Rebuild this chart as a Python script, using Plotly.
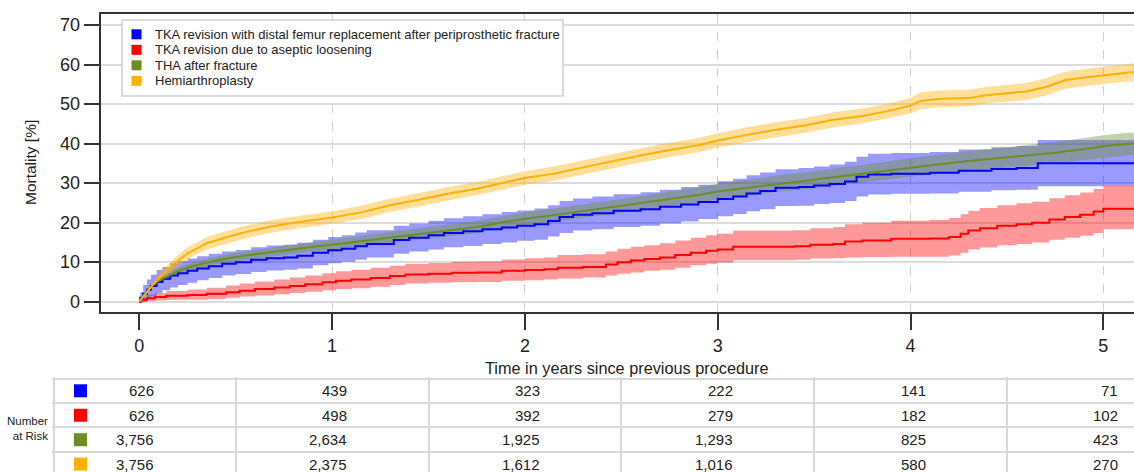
import plotly.graph_objects as go

W, H = 1134, 472
FONT = "Liberation Sans, Arial, sans-serif"

# ---------------- data ----------------
series_names = [
    "TKA revision with distal femur replacement after periprosthetic fracture",
    "TKA revision due to aseptic loosening",
    "THA after fracture",
    "Hemiarthroplasty",
]
line_colors = ["#0000FF", "#FF0000", "#6B8E23", "#FFB000"]
band_colors = ["rgba(0,0,255,0.40)", "rgba(255,0,0,0.40)", "rgba(107,142,35,0.40)", "rgba(255,176,0,0.40)"]

blue_t = [0, 0.005, 0.02, 0.04, 0.06, 0.09, 0.12, 0.16, 0.2, 0.25, 0.3, 0.36, 0.43, 0.5, 0.58, 0.66, 0.75, 0.82, 0.9, 0.98,
          1.05, 1.12, 1.18, 1.32, 1.4, 1.5, 1.58, 1.68, 1.78, 1.88, 1.96, 2.05, 2.12, 2.18, 2.25, 2.35, 2.46, 2.6, 2.7, 2.81,
          2.9, 3.0, 3.08, 3.15, 3.22, 3.3, 3.42, 3.5, 3.58, 3.66, 3.72, 3.78, 3.9, 4.1, 4.25, 4.42, 4.55, 4.66, 5.16]
blue_v = [0, 1.0, 2.0, 3.0, 4.0, 5.0, 5.8, 6.6, 7.2, 7.8, 8.4, 9.0, 9.6, 10.0, 10.6, 11.0, 11.2, 11.6, 12.4, 13.0,
          13.4, 14.0, 14.6, 15.6, 16.2, 16.8, 17.4, 17.8, 18.3, 18.8, 19.2, 19.6, 20.4, 21.4, 22.0, 22.4, 23.0, 23.4, 24.0, 24.6,
          25.2, 26.0, 26.6, 27.4, 28.0, 28.8, 29.0, 29.4, 29.8, 30.4, 31.6, 32.2, 32.4, 32.6, 33.1, 33.6, 33.8, 35.0, 35.0]
blue_lo = [0, 0, 0, 0.6, 1.4, 2.2, 2.9, 3.6, 4.2, 4.8, 5.4, 6.0, 6.6, 7.0, 7.5, 7.9, 8.1, 8.4, 9.2, 9.7,
           10.1, 10.6, 11.2, 12.1, 12.7, 13.2, 13.8, 14.1, 14.6, 15.0, 15.4, 15.7, 16.5, 17.4, 18.0, 18.3, 18.9, 19.2, 19.8, 20.3,
           20.9, 21.6, 22.2, 22.9, 23.4, 24.2, 24.3, 24.7, 25.0, 25.5, 26.6, 27.1, 27.3, 27.4, 27.8, 28.2, 28.3, 29.2, 29.2]
blue_hi = [0, 2.4, 4.2, 5.6, 6.8, 8.0, 8.8, 9.7, 10.3, 10.9, 11.5, 12.1, 12.7, 13.1, 13.8, 14.2, 14.4, 14.9, 15.7, 16.4,
           16.8, 17.5, 18.1, 19.2, 19.8, 20.5, 21.1, 21.6, 22.1, 22.7, 23.1, 23.6, 24.4, 25.5, 26.1, 26.6, 27.2, 27.7, 28.3, 29.0,
           29.6, 30.5, 31.1, 32.0, 32.7, 33.5, 33.8, 34.2, 34.7, 35.4, 36.7, 37.4, 37.6, 37.9, 38.5, 39.1, 39.4, 40.9, 40.9]

red_t = [0, 0.01, 0.04, 0.08, 0.14, 0.25, 0.35, 0.45, 0.52, 0.6, 0.7, 0.78, 0.86, 0.95, 1.02, 1.1, 1.2, 1.3, 1.38, 1.5,
         1.62, 1.75, 1.88, 2.0, 2.1, 2.17, 2.3, 2.42, 2.48, 2.55, 2.62, 2.7, 2.78, 2.86, 2.94, 3.0, 3.08, 3.4, 3.48, 3.6,
         3.66, 3.75, 3.9, 4.1, 4.2, 4.26, 4.3, 4.36, 4.45, 4.55, 4.63, 4.72, 4.8, 4.88, 4.95, 5.0, 5.16]
red_v = [0, 0.5, 0.9, 1.2, 1.5, 1.7, 2.0, 2.4, 2.8, 3.2, 3.6, 4.0, 4.4, 4.9, 5.3, 5.6, 6.0, 6.5, 6.9, 7.1,
         7.3, 7.4, 7.8, 8.0, 8.2, 8.6, 8.8, 9.4, 10.0, 10.4, 10.8, 11.2, 11.8, 12.4, 12.9, 13.2, 13.9, 14.0, 14.4, 14.6,
         15.2, 15.5, 15.9, 16.0, 16.4, 17.2, 18.0, 18.6, 19.2, 19.6, 20.0, 20.8, 21.4, 22.0, 22.8, 23.5, 23.5]
red_lo = [0, 0.0, 0.2, 0.3, 0.5, 0.5, 0.7, 1.0, 1.3, 1.6, 1.9, 2.2, 2.5, 2.9, 3.2, 3.4, 3.8, 4.2, 4.6, 4.8,
          4.9, 5.0, 5.3, 5.4, 5.6, 5.9, 6.1, 6.6, 7.1, 7.4, 7.8, 8.1, 8.6, 9.2, 9.6, 9.9, 10.5, 10.6, 10.9, 11.0,
          11.2, 11.3, 11.4, 11.4, 11.7, 12.4, 13.2, 13.7, 14.3, 14.6, 15.0, 15.7, 16.2, 16.7, 17.4, 18.3, 18.3]
red_hi = [0, 1.0, 1.7, 2.2, 2.7, 3.1, 3.5, 4.1, 4.6, 5.1, 5.6, 6.1, 6.6, 7.2, 7.7, 8.1, 8.6, 9.1, 9.6, 9.8,
          10.1, 10.2, 10.7, 11.0, 11.2, 11.8, 12.0, 12.7, 13.4, 13.9, 14.3, 14.8, 15.5, 16.2, 16.8, 17.2, 18.0, 18.1, 18.6, 18.9,
          19.6, 20.0, 20.5, 20.7, 21.2, 22.1, 23.0, 23.7, 24.4, 24.9, 25.3, 26.2, 26.9, 27.6, 28.5, 29.3, 29.3]

green_t = [0, 0.02, 0.05, 0.08, 0.12, 0.16, 0.2, 0.25, 0.3, 0.4, 0.5, 0.6, 0.75, 0.9, 1.0, 1.15, 1.3, 1.45, 1.6, 1.75,
           1.9, 2.0, 2.15, 2.3, 2.45, 2.6, 2.75, 2.9, 3.0, 3.15, 3.3, 3.45, 3.6, 3.75, 3.9, 4.0, 4.15, 4.3, 4.45, 4.6,
           4.75, 4.9, 5.0, 5.1, 5.16]
green_v = [0, 1.5, 3.2, 4.6, 5.8, 6.8, 7.7, 8.6, 9.3, 10.4, 11.3, 12.0, 13.0, 13.9, 14.4, 15.3, 16.3, 17.2, 18.0, 18.9,
           20.2, 21.0, 21.9, 22.9, 23.9, 24.9, 26.0, 27.0, 27.9, 28.8, 29.8, 30.6, 31.5, 32.4, 33.3, 34.0, 34.8, 35.6, 36.3, 37.0,
           37.7, 38.6, 39.3, 39.8, 40.0]
green_lo = [0, 1.0, 2.6, 3.9, 5.0, 6.0, 6.8, 7.7, 8.3, 9.4, 10.2, 10.9, 11.8, 12.7, 13.1, 14.0, 14.9, 15.8, 16.5, 17.4,
            18.6, 19.4, 20.2, 21.2, 22.1, 23.1, 24.1, 25.1, 25.9, 26.8, 27.7, 28.5, 29.3, 30.2, 31.0, 31.7, 32.4, 33.1, 33.8, 34.4,
            35.0, 35.8, 36.5, 37.0, 37.2]
green_hi = [0, 2.0, 3.8, 5.3, 6.6, 7.6, 8.6, 9.5, 10.3, 11.4, 12.4, 13.1, 14.2, 15.1, 15.7, 16.6, 17.7, 18.6, 19.5, 20.4,
            21.8, 22.6, 23.6, 24.6, 25.7, 26.7, 27.9, 28.9, 29.9, 30.8, 31.9, 32.7, 33.7, 34.6, 35.6, 36.3, 37.2, 38.1, 38.8, 39.6,
            40.4, 41.4, 42.1, 42.6, 42.8]

orange_t = [0, 0.02, 0.05, 0.08, 0.12, 0.16, 0.2, 0.25, 0.3, 0.35, 0.45, 0.55, 0.65, 0.75, 0.85, 1.0, 1.15, 1.3, 1.45, 1.6,
            1.75, 1.9, 2.0, 2.15, 2.3, 2.45, 2.6, 2.75, 2.9, 3.0, 3.15, 3.3, 3.45, 3.6, 3.75, 3.9, 4.0, 4.05, 4.15, 4.3,
            4.4, 4.5, 4.6, 4.7, 4.8, 4.9, 5.0, 5.1, 5.16]
orange_v = [0, 1.2, 3.0, 4.8, 6.8, 8.6, 10.4, 12.2, 13.6, 14.8, 16.3, 17.6, 18.7, 19.6, 20.3, 21.3, 22.6, 24.4, 25.8, 27.3,
            28.6, 30.3, 31.3, 32.4, 34.0, 35.5, 37.0, 38.4, 39.6, 40.8, 42.2, 43.5, 44.6, 46.0, 47.0, 48.4, 49.6, 50.8, 51.3, 51.5,
            52.3, 52.7, 53.2, 54.3, 56.0, 56.7, 57.3, 57.8, 58.1]
orange_lo = [0, 0.7, 2.2, 3.8, 5.6, 7.3, 9.0, 10.7, 12.1, 13.2, 14.7, 16.0, 17.1, 18.0, 18.7, 19.7, 20.9, 22.7, 24.1, 25.6,
             26.9, 28.6, 29.6, 30.6, 32.2, 33.7, 35.2, 36.6, 37.8, 39.0, 40.3, 41.6, 42.7, 44.1, 45.1, 46.5, 47.6, 48.7, 49.2, 49.4,
             50.2, 50.6, 51.0, 52.1, 53.8, 54.5, 55.1, 55.6, 55.9]
orange_hi = [0, 1.7, 3.8, 5.8, 8.0, 9.9, 11.8, 13.7, 15.1, 16.4, 17.9, 19.2, 20.3, 21.2, 21.9, 22.9, 24.3, 26.1, 27.5, 29.0,
             30.3, 32.0, 33.0, 34.2, 35.8, 37.3, 38.8, 40.2, 41.4, 42.6, 44.1, 45.4, 46.5, 47.9, 48.9, 50.3, 51.6, 52.9, 53.4, 53.6,
             54.4, 54.8, 55.4, 56.5, 58.2, 58.9, 59.5, 60.0, 60.3]

line_shapes = ["hv", "hv", "linear", "linear"]

risk_times = [0, 1, 2, 3, 4, 5]
risk_blue = [626, 439, 323, 222, 141, 71]
risk_red = [626, 498, 392, 279, 182, 102]
risk_green = [3756, 2634, 1925, 1293, 825, 423]
risk_orange = [3756, 2375, 1612, 1016, 580, 270]

y_ticks = [0, 10, 20, 30, 40, 50, 60, 70]

# ---------------- layout helpers ----------------
def pxx(p):
    return p / W


def pxy(p):
    return 1 - p / H


PX_PER_YEAR = 192.8
X0_PX = 139.3

all_t = [blue_t, red_t, green_t, orange_t]
all_v = [blue_v, red_v, green_v, orange_v]
all_lo = [blue_lo, red_lo, green_lo, orange_lo]
all_hi = [blue_hi, red_hi, green_hi, orange_hi]
all_risk = [risk_blue, risk_red, risk_green, risk_orange]

fig = go.Figure()

# bands
for i in range(4):
    fig.add_trace(go.Scatter(x=all_t[i], y=all_lo[i], mode="lines", line=dict(width=0, shape=line_shapes[i]),
                             showlegend=False, hoverinfo="skip", xaxis="x", yaxis="y"))
    fig.add_trace(go.Scatter(x=all_t[i], y=all_hi[i], mode="lines", line=dict(width=0, shape=line_shapes[i]),
                             fill="tonexty", fillcolor=band_colors[i], showlegend=False, hoverinfo="skip",
                             xaxis="x", yaxis="y"))
# lines
for i in range(4):
    fig.add_trace(go.Scatter(x=all_t[i], y=all_v[i], mode="lines", name=series_names[i],
                             line=dict(color=line_colors[i], width=2, shape=line_shapes[i]),
                             showlegend=False, xaxis="x", yaxis="y"))

# risk table squares
sq_x = (80.5 - X0_PX) / PX_PER_YEAR
fig.add_trace(go.Scatter(x=[sq_x] * 4, y=[0, 1, 2, 3], mode="markers",
                         marker=dict(symbol="square", size=13, color=line_colors, line=dict(width=0)),
                         showlegend=False, hoverinfo="skip", xaxis="x2", yaxis="y2"))

annotations = []
num_offset = 17 / PX_PER_YEAR
for r in range(4):
    for c, t in enumerate(risk_times):
        annotations.append(dict(x=t + num_offset, y=r, xref="x2", yref="y2", text=f"{all_risk[r][c]:,}",
                                showarrow=False, xanchor="right", yanchor="middle",
                                font=dict(family=FONT, size=15, color="#222")))

annotations.append(dict(x=pxx(50), y=pxy(428), xref="paper", yref="paper", text="Number<br>at Risk",
                        showarrow=False, xanchor="right", yanchor="middle", align="right",
                        font=dict(family=FONT, size=11.5, color="#222")))
annotations.append(dict(x=pxx(30), y=pxy(163), xref="paper", yref="paper", text="Mortality [%]",
                        textangle=-90, showarrow=False, xanchor="center", yanchor="middle",
                        font=dict(family=FONT, size=15.5, color="#222")))
annotations.append(dict(x=pxx(627), y=pxy(368), xref="paper", yref="paper",
                        text="Time in years since previous procedure",
                        showarrow=False, xanchor="center", yanchor="middle",
                        font=dict(family=FONT, size=16.3, color="#222")))

# custom legend
shapes = [dict(type="rect", xref="paper", yref="paper", x0=pxx(122), x1=pxx(563), y0=pxy(96), y1=pxy(20),
               line=dict(color="#cfcfcf", width=1.5), fillcolor="white", layer="above")]
for i in range(4):
    cy = 34.3 + 15.5 * i
    shapes.append(dict(type="rect", xref="paper", yref="paper", x0=pxx(131.5), x1=pxx(141.5),
                       y0=pxy(cy + 5), y1=pxy(cy - 5), line=dict(width=0), fillcolor=line_colors[i], layer="above"))
    annotations.append(dict(x=pxx(153), y=pxy(cy), xref="paper", yref="paper", text=series_names[i],
                            showarrow=False, xanchor="left", yanchor="middle",
                            font=dict(family=FONT, size=13, color="#222")))

# table grid positions
col_bounds = [(a + b) / 2 for a, b in zip(risk_times[:-1], risk_times[1:])]
table_left = (54 - X0_PX) / PX_PER_YEAR

x_left = (100.7 - X0_PX) / PX_PER_YEAR
x_right = (W - X0_PX) / PX_PER_YEAR

fig.update_layout(
    width=W, height=H, autosize=False,
    margin=dict(l=0, r=0, t=0, b=0, pad=0),
    paper_bgcolor="white", plot_bgcolor="white",
    font=dict(family=FONT, color="#222"),
    showlegend=False,
    xaxis=dict(domain=[pxx(100.7), 1], range=[x_left, x_right], tickvals=risk_times, ticks="outside",
               ticklen=16, tickwidth=2, tickcolor="#333", showline=True, linecolor="#333", linewidth=2,
               mirror=True, showgrid=True, gridcolor="#cfcfcf", gridwidth=1, griddash="dash",
               zeroline=True, zerolinecolor="rgba(0,0,0,0)", zerolinewidth=0,
               tickfont=dict(family=FONT, size=18, color="#222"), automargin=False, anchor="y"),
    yaxis=dict(domain=[1 - 312.3 / H, 1 - 14 / H], range=[-2.68, 72.78], tickvals=y_ticks, ticks="outside",
               ticklen=15, tickwidth=2, tickcolor="#333", showline=True, linecolor="#333", linewidth=2,
               showgrid=True, gridcolor="#dcdcdc", gridwidth=2, zeroline=False,
               tickfont=dict(family=FONT, size=18, color="#222"), automargin=False, anchor="x"),
    xaxis2=dict(domain=[pxx(52), 1], range=[(52 - X0_PX) / PX_PER_YEAR, x_right],
                tickvals=[table_left] + col_bounds, showticklabels=False, ticks="",
                showgrid=True, gridcolor="#d9d9d9", gridwidth=2, zeroline=False, showline=False,
                automargin=False, anchor="y2"),
    yaxis2=dict(domain=[0, 95 / H], range=[3.321, -0.564], tickvals=[-0.5, 0.5, 1.5, 2.5],
                showticklabels=False, ticks="", showgrid=True, gridcolor="#d9d9d9", gridwidth=2,
                zeroline=False, showline=False, automargin=False, anchor="x2"),
    annotations=annotations,
    shapes=shapes,
)

fig.write_html("out.html", config={"displayModeBar": False},
               post_script="document.body.style.margin='0px';document.body.style.overflow='hidden';")
